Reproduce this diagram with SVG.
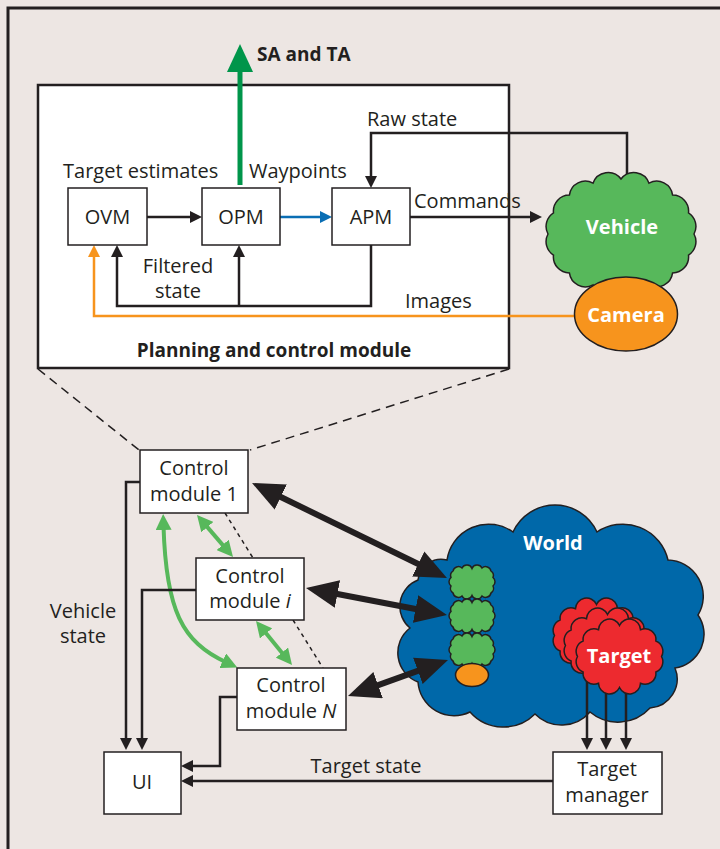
<svg xmlns="http://www.w3.org/2000/svg" width="720" height="849" viewBox="0 0 720 849">
  <style>
    .t { font-family: "Open Sans", "Liberation Sans", sans-serif; font-size: 20px; fill: #231f20; }
    .b { font-family: "Open Sans", "Liberation Sans", sans-serif; font-size: 19px; font-weight: bold; fill: #231f20; }
    .w { font-family: "Open Sans", "Liberation Sans", sans-serif; font-size: 20px; font-weight: bold; fill: #ffffff; }
    .mid { text-anchor: middle; }
    .box { fill: #ffffff; stroke: #231f20; stroke-width: 1.5; }
    .ln { fill: none; stroke: #231f20; stroke-width: 2.5; }
    .thick { fill: none; stroke: #231f20; stroke-width: 6; }
    .grn { fill: none; stroke: #57b85b; stroke-width: 4; }
    .dash { fill: none; stroke: #231f20; stroke-width: 1.5; stroke-dasharray: 9 6; }
    .dot { fill: none; stroke: #231f20; stroke-width: 1.5; stroke-dasharray: 4 4; }
    .cloud { stroke: #231f20; stroke-width: 1.5; }
  </style>
  <defs>
    <marker id="ah" viewBox="0 0 12 12" refX="4" refY="6" markerWidth="12" markerHeight="12" markerUnits="userSpaceOnUse" orient="auto">
      <path d="M0,0 L12,6 L0,12 z" fill="#231f20"/>
    </marker>
    <marker id="ahb" viewBox="0 0 12 12" refX="4" refY="6" markerWidth="12" markerHeight="12" markerUnits="userSpaceOnUse" orient="auto">
      <path d="M0,0 L12,6 L0,12 z" fill="#0a6eb4"/>
    </marker>
    <marker id="aho" viewBox="0 0 12 12" refX="4" refY="6" markerWidth="12" markerHeight="12" markerUnits="userSpaceOnUse" orient="auto">
      <path d="M0,0 L12,6 L0,12 z" fill="#f7941d"/>
    </marker>
    <marker id="big" viewBox="0 0 32 28" refX="8" refY="14" markerWidth="32" markerHeight="28" markerUnits="userSpaceOnUse" orient="auto-start-reverse">
      <path d="M0,0 L32,14 L0,28 z" fill="#231f20"/>
    </marker>
    <marker id="gh" viewBox="0 0 16 16" refX="4" refY="8" markerWidth="16" markerHeight="16" markerUnits="userSpaceOnUse" orient="auto-start-reverse">
      <path d="M0,0 L16,8 L0,16 z" fill="#57b85b"/>
    </marker>
    <!-- scalloped cloud outlines -->
    <path id="smallCloud" d="M5,6 A5.5,5.5 0 0 1 14,3 A5.5,5.5 0 0 1 24,3.5 A5.5,5.5 0 0 1 34,3 A5.5,5.5 0 0 1 43,6 A5.5,5.5 0 0 1 45,12.5 A5.5,5.5 0 0 1 45,21 A5.5,5.5 0 0 1 43,28 A5.5,5.5 0 0 1 34,31 A5.5,5.5 0 0 1 24,30.5 A5.5,5.5 0 0 1 14,31 A5.5,5.5 0 0 1 5,28 A5.5,5.5 0 0 1 3,21 A5.5,5.5 0 0 1 3,12.5 A5.5,5.5 0 0 1 5,6 z"/>
    <path id="redCloud" d="M90.5,37.5 A11,11 0 0 1 84.9,53 A11,11 0 0 1 69.5,64.3 A11,11 0 0 1 48.5,68.5 A11,11 0 0 1 27.5,64.3 A11,11 0 0 1 12.1,53 A11,11 0 0 1 6.5,37.5 A11,11 0 0 1 12.1,22 A11,11 0 0 1 27.5,10.7 A11,11 0 0 1 48.5,6.5 A11,11 0 0 1 69.5,10.7 A11,11 0 0 1 84.9,22 A11,11 0 0 1 90.5,37.5 z"/>
  </defs>

  <!-- page -->
  <rect x="0" y="0" width="720" height="849" fill="#ede6e3"/>
  <path d="M8,849 V8 H720" fill="none" stroke="#231f20" stroke-width="3"/>

  <!-- planning and control module -->
  <g id="planning-module">
    <rect x="38" y="85" width="471" height="283" fill="#ffffff" stroke="#231f20" stroke-width="2.5"/>
    <text class="b mid" x="274" y="357">Planning and control module</text>
  </g>

  <!-- world -->
  <g id="world">
    <path class="cloud" fill="#0068a9" d="M513,532 A46.2,46.2 0 0 1 597,532 A46.4,46.4 0 0 1 668,560 A36.2,36.2 0 0 1 698,615 A34,34 0 0 1 675,668 A29.2,29.2 0 0 1 650,708 A43.5,43.5 0 0 1 590,712 A37.5,37.5 0 0 1 535,714 A44.7,44.7 0 0 1 470,712 A36.1,36.1 0 0 1 418,682 A31.3,31.3 0 0 1 410,628 A28.2,28.2 0 0 1 418,580 A23.4,23.4 0 0 1 447,560 A42,42 0 0 1 513,532 z"/>
    <text class="w mid" x="553" y="550">World</text>
  </g>

  <!-- connectors -->
  <g id="connectors">
    <line x1="240" y1="185" x2="240" y2="70" stroke="#00954a" stroke-width="5"/>
    <polygon points="240,44 253,72 227,72" fill="#00954a"/>
    <path class="ln" d="M147,217 H194" marker-end="url(#ah)"/>
    <path d="M280,217 H324" fill="none" stroke="#0a6eb4" stroke-width="2.5" marker-end="url(#ahb)"/>
    <path class="ln" d="M410,217 H534" marker-end="url(#ah)"/>
    <path class="ln" d="M627,176 V133 H371 V180" marker-end="url(#ah)"/>
    <path class="ln" d="M371,245 V306 H117 V253" marker-end="url(#ah)"/>
    <path class="ln" d="M239,306 V253" marker-end="url(#ah)"/>
    <path d="M575,316 H94 V253" fill="none" stroke="#f7941d" stroke-width="2.5" marker-end="url(#aho)"/>

    <path class="dash" d="M38,369 L139,450"/>
    <path class="dash" d="M509,369 L250,450"/>
    <path class="dot" d="M225,513 L253,558"/>
    <path class="dot" d="M293,620 L323,668"/>

    <path class="grn" d="M204.8,524.1 L225.2,547.9" marker-start="url(#gh)" marker-end="url(#gh)"/>
    <path class="grn" d="M263.6,630.3 L284.4,655.7" marker-start="url(#gh)" marker-end="url(#gh)"/>
    <path class="grn" d="M163.5,526 C166,610 182,642 226.4,662.4" marker-start="url(#gh)" marker-end="url(#gh)"/>

    <path class="thick" d="M273.6,493.5 L425.4,567.5" marker-start="url(#big)" marker-end="url(#big)"/>
    <path class="thick" d="M329.6,592.5 L423.4,610.5" marker-start="url(#big)" marker-end="url(#big)"/>
    <path class="thick" d="M370.6,687.9 L425.4,668.1" marker-start="url(#big)" marker-end="url(#big)"/>

    <path class="ln" d="M140,482 H126 V742" marker-end="url(#ah)"/>
    <path class="ln" d="M196,590 H142 V742" marker-end="url(#ah)"/>
    <path class="ln" d="M237,697 H220 V766 H189" marker-end="url(#ah)"/>
    <path class="ln" d="M553,781 H189" marker-end="url(#ah)"/>
    <path class="ln" d="M587,680 V742" marker-end="url(#ah)"/>
    <path class="ln" d="M606,680 V742" marker-end="url(#ah)"/>
    <path class="ln" d="M626,680 V742" marker-end="url(#ah)"/>

    <text class="b" x="257" y="61">SA and TA</text>
    <text class="t" x="63" y="178">Target estimates</text>
    <text class="t" x="249" y="178">Waypoints</text>
    <text class="t" x="367" y="126">Raw state</text>
    <text class="t" x="414" y="208">Commands</text>
    <text class="t mid" x="178" y="273">Filtered</text>
    <text class="t mid" x="178" y="298">state</text>
    <text class="t" x="405" y="308">Images</text>
    <text class="t mid" x="83" y="618">Vehicle</text>
    <text class="t mid" x="83" y="643">state</text>
    <text class="t mid" x="366" y="773">Target state</text>
  </g>

  <!-- modules inside the planning block -->
  <g id="ovm">
    <rect class="box" x="68" y="188" width="79" height="57"/>
    <text class="t mid" x="107.5" y="224">OVM</text>
  </g>
  <g id="opm">
    <rect class="box" x="202" y="188" width="78" height="57"/>
    <text class="t mid" x="241" y="224">OPM</text>
  </g>
  <g id="apm">
    <rect class="box" x="332" y="188" width="78" height="57"/>
    <text class="t mid" x="371" y="224">APM</text>
  </g>

  <!-- vehicle and camera -->
  <g id="vehicle">
    <path class="cloud" fill="#57b85b" d="M694,234 A16,16 0 0 1 688.5,255.1 A16,16 0 0 1 672.6,272.9 A16,16 0 0 1 649,284.8 A16,16 0 0 1 621,289 A16,16 0 0 1 593,284.8 A16,16 0 0 1 569.4,272.9 A16,16 0 0 1 553.5,255.1 A16,16 0 0 1 548,234 A16,16 0 0 1 553.5,212.9 A16,16 0 0 1 569.4,195.1 A16,16 0 0 1 593,183.2 A16,16 0 0 1 621,179 A16,16 0 0 1 649,183.2 A16,16 0 0 1 672.6,195.1 A16,16 0 0 1 688.5,212.9 A16,16 0 0 1 694,234 z"/>
    <text class="w mid" x="622" y="234">Vehicle</text>
  </g>
  <g id="camera">
    <ellipse cx="626" cy="314" rx="51.5" ry="37" fill="#f7941d" stroke="#231f20" stroke-width="1.5"/>
    <text class="w mid" x="626" y="322">Camera</text>
  </g>

  <!-- control modules -->
  <g id="control-module-1">
    <rect class="box" x="140" y="450" width="108" height="63"/>
    <text class="t mid" x="194" y="475">Control</text>
    <text class="t mid" x="194" y="501">module 1</text>
  </g>
  <g id="control-module-i">
    <rect class="box" x="196" y="558" width="108" height="62"/>
    <text class="t mid" x="250" y="583">Control</text>
    <text class="t mid" x="250" y="608">module <tspan font-style="italic">i</tspan></text>
  </g>
  <g id="control-module-n">
    <rect class="box" x="237" y="668" width="109" height="62"/>
    <text class="t mid" x="291" y="692">Control</text>
    <text class="t mid" x="291" y="718">module <tspan font-style="italic">N</tspan></text>
  </g>

  <!-- vehicles in the world -->
  <g id="world-vehicles">
    <use href="#smallCloud" x="448" y="565" class="cloud" fill="#57b85b"/>
    <use href="#smallCloud" x="448" y="599" class="cloud" fill="#57b85b"/>
    <use href="#smallCloud" x="448" y="633" class="cloud" fill="#57b85b"/>
    <ellipse cx="472" cy="675" rx="16.5" ry="11.5" fill="#f7941d" stroke="#231f20" stroke-width="1.5"/>
  </g>

  <!-- targets -->
  <g id="targets">
    <use href="#redCloud" x="548" y="598" class="cloud" fill="#ed2a2f"/>
    <use href="#redCloud" x="559" y="608" class="cloud" fill="#ed2a2f"/>
    <use href="#redCloud" x="571" y="619" class="cloud" fill="#ed2a2f"/>
    <text class="w mid" x="619" y="663">Target</text>
  </g>

  <g id="ui">
    <rect class="box" x="104" y="752" width="77" height="62"/>
    <text class="t mid" x="142" y="789">UI</text>
  </g>
  <g id="target-manager">
    <rect class="box" x="553" y="752" width="109" height="62"/>
    <text class="t mid" x="607" y="776">Target</text>
    <text class="t mid" x="607" y="802">manager</text>
  </g>
</svg>
